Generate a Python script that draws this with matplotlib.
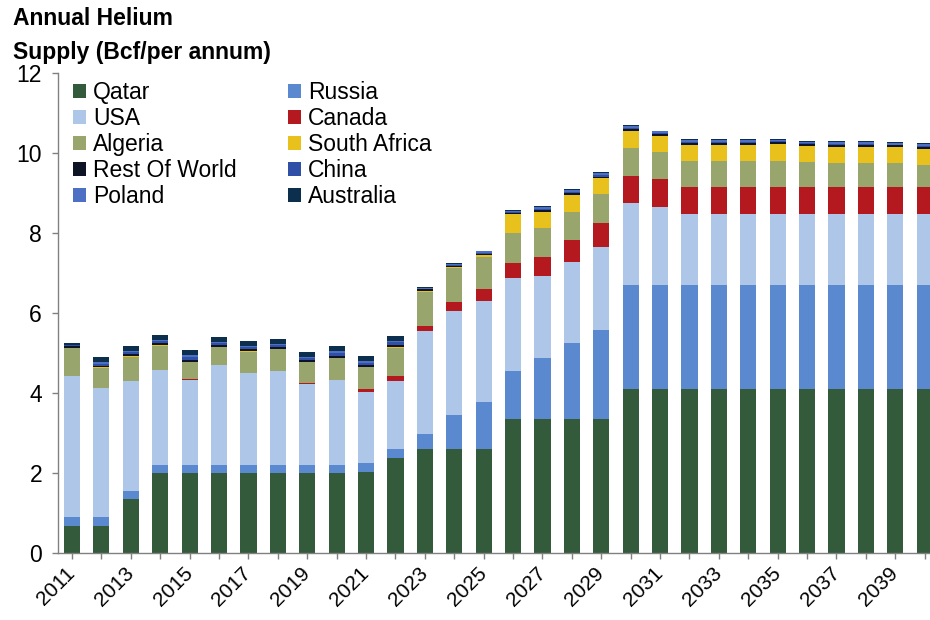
import numpy as np
import matplotlib
matplotlib.use('Agg')
import matplotlib.pyplot as plt

# Årtal och serier (Bcf per år)
years = list(range(2011, 2041))

qatar = [0.68, 0.68, 1.34, 1.99, 1.99, 1.99, 1.99, 1.99, 1.99, 1.99,
         2.03, 2.37, 2.59, 2.59, 2.59, 3.34, 3.34, 3.34, 3.34, 4.09,
         4.09, 4.09, 4.09, 4.09, 4.09, 4.09, 4.09, 4.09, 4.09, 4.09]
russia = [0.23, 0.23, 0.22, 0.21, 0.21, 0.21, 0.21, 0.21, 0.21, 0.21,
          0.23, 0.23, 0.38, 0.86, 1.19, 1.21, 1.53, 1.90, 2.24, 2.61,
          2.61, 2.61, 2.61, 2.61, 2.61, 2.61, 2.61, 2.61, 2.61, 2.61]
usa = [3.52, 3.21, 2.75, 2.38, 2.13, 2.50, 2.31, 2.36, 2.03, 2.13,
       1.77, 1.71, 2.58, 2.61, 2.53, 2.32, 2.06, 2.04, 2.06, 2.06,
       1.96, 1.78, 1.78, 1.78, 1.78, 1.78, 1.78, 1.78, 1.78, 1.78]
canada = [0.0, 0.0, 0.0, 0.0, 0.01, 0.0, 0.0, 0.0, 0.01, 0.0,
          0.06, 0.12, 0.13, 0.22, 0.28, 0.39, 0.46, 0.55, 0.62, 0.67,
          0.69, 0.68, 0.68, 0.68, 0.68, 0.68, 0.68, 0.68, 0.68, 0.68]
algeria = [0.69, 0.51, 0.60, 0.60, 0.43, 0.44, 0.52, 0.53, 0.53, 0.54,
           0.55, 0.69, 0.85, 0.84, 0.82, 0.75, 0.73, 0.70, 0.72, 0.69,
           0.68, 0.65, 0.65, 0.65, 0.64, 0.62, 0.60, 0.60, 0.58, 0.55]
south_africa = [0.01, 0.01, 0.01, 0.02, 0.01, 0.01, 0.01, 0.01, 0.01, 0.01,
                0.01, 0.04, 0.03, 0.02, 0.03, 0.46, 0.41, 0.42, 0.39, 0.44,
                0.40, 0.40, 0.40, 0.40, 0.42, 0.39, 0.40, 0.40, 0.40, 0.40]
rest_of_world = [0.04, 0.04, 0.05, 0.05, 0.05, 0.05, 0.05, 0.04, 0.05, 0.05,
                 0.05, 0.05, 0.03, 0.04, 0.04, 0.04, 0.04, 0.05, 0.04, 0.05,
                 0.05, 0.05, 0.05, 0.05, 0.05, 0.05, 0.05, 0.05, 0.05, 0.05]
china = [0.02, 0.05, 0.05, 0.04, 0.06, 0.04, 0.05, 0.05, 0.04, 0.06,
         0.06, 0.06, 0.02, 0.02, 0.03, 0.02, 0.03, 0.03, 0.03, 0.02,
         0.02, 0.02, 0.02, 0.02, 0.02, 0.02, 0.02, 0.02, 0.02, 0.02]
poland = [0.02, 0.04, 0.04, 0.04, 0.05, 0.04, 0.04, 0.04, 0.04, 0.05,
          0.04, 0.04, 0.02, 0.02, 0.03, 0.03, 0.06, 0.04, 0.06, 0.05,
          0.04, 0.04, 0.04, 0.04, 0.04, 0.04, 0.04, 0.04, 0.04, 0.04]
australia = [0.03, 0.14, 0.12, 0.11, 0.13, 0.13, 0.12, 0.12, 0.12, 0.14,
             0.13, 0.12, 0.03, 0.02, 0.02, 0.02, 0.02, 0.02, 0.02, 0.02,
             0.02, 0.02, 0.02, 0.02, 0.02, 0.02, 0.02, 0.02, 0.02, 0.02]

series_names = ['Qatar', 'Russia', 'USA', 'Canada', 'Algeria', 'South Africa',
                'Rest Of World', 'China', 'Poland', 'Australia']
series_values = [qatar, russia, usa, canada, algeria, south_africa,
                 rest_of_world, china, poland, australia]
colors = ['#345a3c', '#5b89cf', '#aec7e8', '#b3191f', '#98a56c', '#e9c11c',
          '#0e1424', '#2f50a6', '#4e70c4', '#0c2f4e']

plt.rcParams['font.family'] = ['Liberation Sans', 'DejaVu Sans']

fig = plt.figure(figsize=(9.3, 6.2), dpi=100)
ax = fig.add_axes([58 / 930, 1 - 553 / 620, 872 / 930, 480 / 620])

x = np.arange(len(years))
bottom = np.zeros(len(years))
bars = []
for name, vals, col in zip(series_names, series_values, colors):
    b = ax.bar(x, vals, width=0.55, bottom=bottom, color=col, label=name, linewidth=0)
    bars.append(b)
    bottom += np.array(vals)

# Axlar
ax.set_xlim(-0.476, 29.18)
ax.set_ylim(0, 12)
ax.set_yticks([0, 2, 4, 6, 8, 10, 12])
ax.set_xticks(x)
ax.set_xticklabels([str(y) if i % 2 == 0 else '' for i, y in enumerate(years)],
                   rotation=45, ha='right', va='center', rotation_mode='anchor')
ax.tick_params(axis='y', labelsize=16.5, length=4.5, width=1, color='#808080', pad=7)
ax.tick_params(axis='x', labelsize=15, length=4.5, width=1, color='#808080', pad=8)

for side in ['top', 'right']:
    ax.spines[side].set_visible(False)
for side in ['left', 'bottom']:
    ax.spines[side].set_color('#808080')
    ax.spines[side].set_linewidth(1)

# Legend: radvis ordning som i originalet
order = [0, 2, 4, 6, 8, 1, 3, 5, 7, 9]
ax.legend([bars[i] for i in order], [series_names[i] for i in order],
          ncol=2, frameon=False, fontsize=16.5,
          loc='upper left', bbox_to_anchor=(73 / 930, 1 - 81 / 620),
          bbox_transform=fig.transFigure, borderaxespad=0, borderpad=0,
          handlelength=0.57, handleheight=0.57, handletextpad=0.3,
          labelspacing=0.13, columnspacing=2.25)

fig.text(13 / 930, 1 - 7 / 620, 'Annual Helium\nSupply (Bcf/per annum)',
         fontsize=16.5, fontweight='bold', va='top', ha='left', linespacing=1.6)

plt.savefig('out.png', dpi=100)
plt.close()
